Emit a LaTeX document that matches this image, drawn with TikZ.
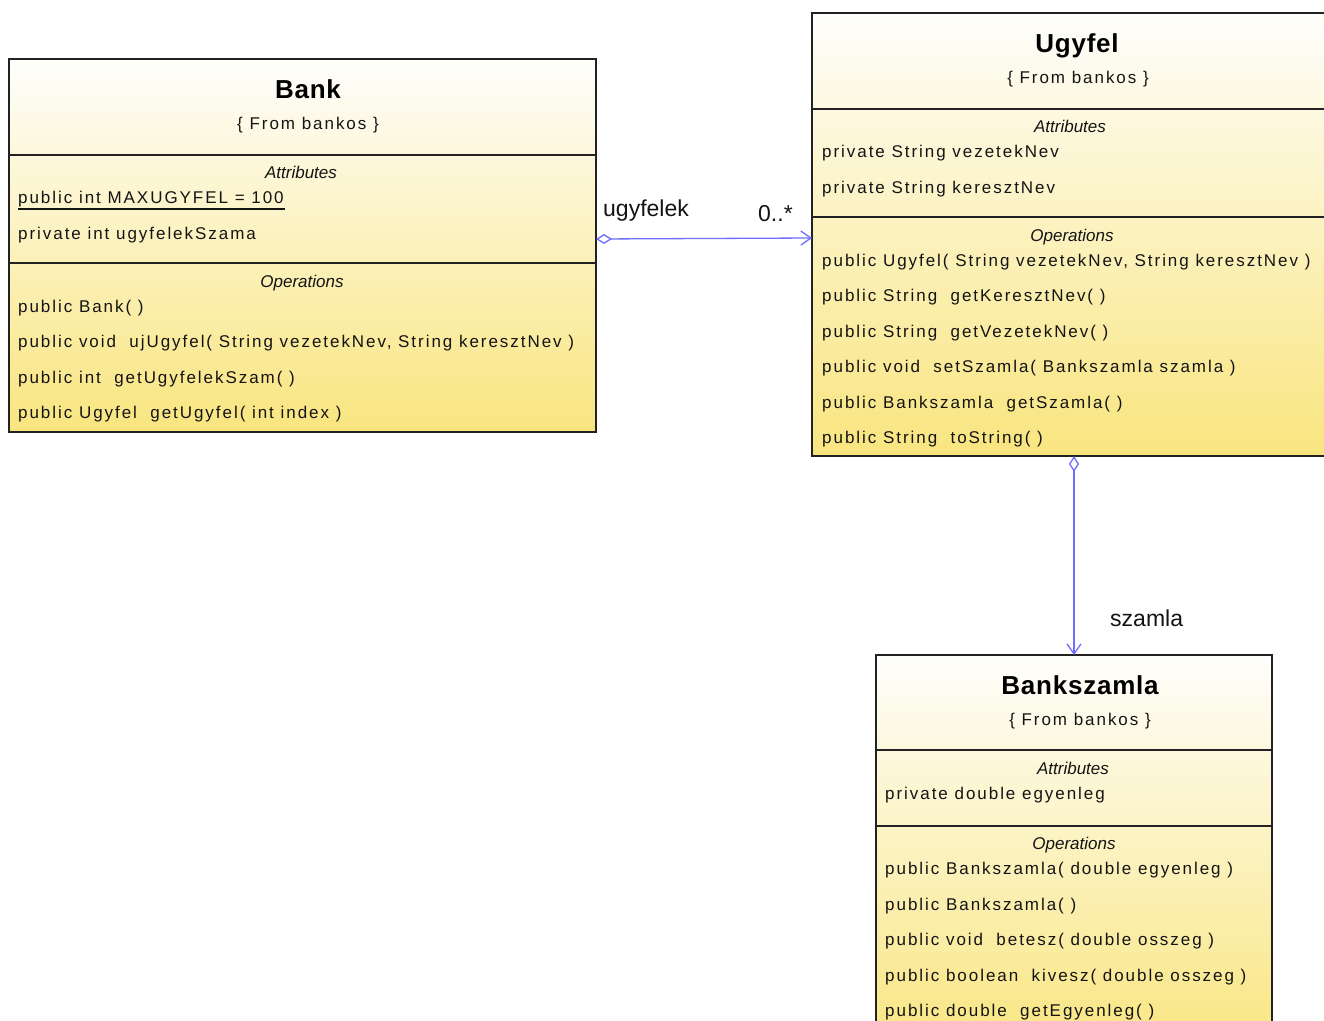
\documentclass[tikz,border=0pt]{standalone}
\usepackage{fontspec}
\setmainfont{Liberation Sans}
\newfontfamily\umlf[LetterSpace=11.5]{Liberation Sans}
\newfontfamily\umlt[LetterSpace=3]{Liberation Sans}
\usetikzlibrary{arrows.meta}
\definecolor{gTop}{HTML}{FEFEFC}
\definecolor{gBot}{HTML}{F9E57F}
\definecolor{lnk}{HTML}{6E6EFF}
\definecolor{frm}{HTML}{222222}
\definecolor{txt}{HTML}{141414}
\tikzset{
  classbox/.style={draw=frm, line width=1.7pt, top color=gTop, bottom color=gBot,
    anchor=north west, inner sep=0pt, outer sep=0pt},
  divider/.style={draw=frm, line width=1.7pt},
  row/.style={anchor=base west, inner sep=0pt, text=txt, font=\umlf\fontsize{17}{20}\selectfont},
  sect/.style={anchor=base, inner sep=0pt, text=txt, font=\fontsize{17}{20}\selectfont\itshape},
  title/.style={anchor=base, inner sep=0pt, text=black, font=\umlt\bfseries\fontsize{26}{30}\selectfont},
  from/.style={anchor=base, inner sep=0pt, text=txt, font=\umlf\fontsize{17}{20}\selectfont},
  lbl/.style={anchor=base west, inner sep=0pt, text=txt, font=\fontsize{23}{26}\selectfont},
  assoc/.style={draw=lnk, line width=1.3pt,
    {Diamond[open,length=16pt,width=10pt,line width=1.3pt]}-{Straight Barb[length=10pt,width=14pt,line width=1.3pt]}}
}
\begin{document}
\begin{tikzpicture}[x=1pt,y=-1pt]
\useasboundingbox (0,0) rectangle (1324,1020);
\clip (0,0) rectangle (1324,1020);
\fill[white] (0,0) rectangle (1324,1020);

% ---------- Bank ----------
\node[classbox, minimum width=587pt, minimum height=373pt] (bank) at (9,59) {};
\draw[divider] (bank.west |- 0,155) -- (bank.east |- 0,155);
\draw[divider] (bank.west |- 0,263) -- (bank.east |- 0,263);
\node[title] (bankT) at (308,98.5) {Bank};
\node[from] (bankF) at (308,129.5) {\{ From bankos \}};
\node[sect] (bankA) at (301,178) {Attributes};
\node[row] (bankA1) at (18,203.5) {public int MAXUGYFEL = 100};
\draw[line width=1.4pt, draw=txt] ([yshift=-5.5pt]bankA1.base west) -- ([yshift=-5.5pt,xshift=1pt]bankA1.base east);
\node[row] (bankA2) at (18,239) {private int ugyfelekSzama};
\node[sect] (bankO) at (302,287.5) {Operations};
\node[row] (bankO1) at (18,312.5) {public Bank( )};
\node[row] (bankO2) at (18,347.5) {public void\ \ ujUgyfel( String vezetekNev, String keresztNev )};
\node[row] (bankO3) at (18,383.5) {public int\ \ getUgyfelekSzam( )};
\node[row] (bankO4) at (18,418.5) {public Ugyfel\ \ getUgyfel( int index )};

% ---------- Ugyfel ----------
\node[classbox, minimum width=524pt, minimum height=443pt] (ugyfel) at (812,13) {};
\draw[divider] (ugyfel.west |- 0,109) -- (ugyfel.east |- 0,109);
\draw[divider] (ugyfel.west |- 0,217) -- (ugyfel.east |- 0,217);
\node[title] (ugyT) at (1077,52.5) {Ugyfel};
\node[from] (ugyF) at (1078,83.5) {\{ From bankos \}};
\node[sect] (ugyA) at (1070,132) {Attributes};
\node[row] (ugyA1) at (822,157.5) {private String vezetekNev};
\node[row] (ugyA2) at (822,193.5) {private String keresztNev};
\node[sect] (ugyO) at (1072,241.5) {Operations};
\node[row] (ugyO1) at (822,266.5) {public Ugyfel( String vezetekNev, String keresztNev )};
\node[row] (ugyO2) at (822,301.5) {public String\ \ getKeresztNev( )};
\node[row] (ugyO3) at (822,337.5) {public String\ \ getVezetekNev( )};
\node[row] (ugyO4) at (822,372.5) {public void\ \ setSzamla( Bankszamla szamla )};
\node[row] (ugyO5) at (822,408.5) {public Bankszamla\ \ getSzamla( )};
\node[row] (ugyO6) at (822,443.5) {public String\ \ toString( )};

% ---------- Bankszamla ----------
\node[classbox, minimum width=396pt, minimum height=400pt] (szamla) at (876,655) {};
\draw[divider] (szamla.west |- 0,750) -- (szamla.east |- 0,750);
\draw[divider] (szamla.west |- 0,826) -- (szamla.east |- 0,826);
\node[title] (szT) at (1080,694.5) {Bankszamla};
\node[from] (szF) at (1080,725.5) {\{ From bankos \}};
\node[sect] (szA) at (1073,774) {Attributes};
\node[row] (szA1) at (885,799.5) {private double egyenleg};
\node[sect] (szO) at (1074,849.5) {Operations};
\node[row] (szO1) at (885,874.5) {public Bankszamla( double egyenleg )};
\node[row] (szO2) at (885,910.5) {public Bankszamla( )};
\node[row] (szO3) at (885,945.5) {public void\ \ betesz( double osszeg )};
\node[row] (szO4) at (885,981.5) {public boolean\ \ kivesz( double osszeg )};
\node[row] (szO5) at (885,1016.5) {public double\ \ getEgyenleg( )};

% ---------- Connectors ----------
\draw[assoc] ([yshift=6.5pt]bank.east) -- ([yshift=-3.5pt]ugyfel.west);
\draw[assoc] (ugyfel.south) -- (szamla.north);
\node[lbl] (lUgy) at (603,216.7) {ugyfelek};
\node[lbl] (lMult) at (758,221) {0..*};
\node[lbl] (lSz) at (1110,626) {szamla};
\end{tikzpicture}
\end{document}
